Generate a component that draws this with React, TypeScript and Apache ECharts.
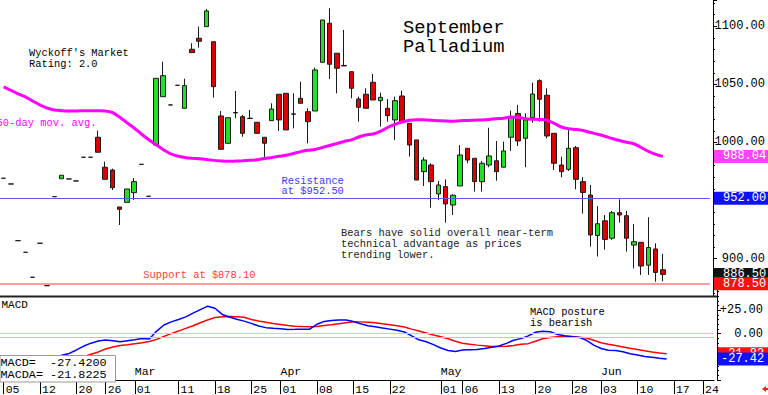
import React, { useEffect, useRef } from "react";
import * as echarts from "echarts";

// Trading days (category axis), Feb 5 – Jun 25 2024
const dates = [
  "2024-02-05","2024-02-06","2024-02-07","2024-02-08","2024-02-09","2024-02-12","2024-02-13","2024-02-14","2024-02-15","2024-02-16",
  "2024-02-20","2024-02-21","2024-02-22","2024-02-23","2024-02-26","2024-02-27","2024-02-28","2024-02-29",
  "2024-03-01","2024-03-04","2024-03-05","2024-03-06","2024-03-07","2024-03-08","2024-03-11","2024-03-12","2024-03-13","2024-03-14",
  "2024-03-15","2024-03-18","2024-03-19","2024-03-20","2024-03-21","2024-03-22","2024-03-25","2024-03-26","2024-03-27","2024-03-28",
  "2024-04-01","2024-04-02","2024-04-03","2024-04-04","2024-04-05","2024-04-08","2024-04-09","2024-04-10","2024-04-11","2024-04-12",
  "2024-04-15","2024-04-16","2024-04-17","2024-04-18","2024-04-19","2024-04-22","2024-04-23","2024-04-24","2024-04-25","2024-04-26",
  "2024-04-29","2024-04-30",
  "2024-05-01","2024-05-02","2024-05-03","2024-05-06","2024-05-07","2024-05-08","2024-05-09","2024-05-10","2024-05-13","2024-05-14",
  "2024-05-15","2024-05-16","2024-05-17","2024-05-20","2024-05-21","2024-05-22","2024-05-23","2024-05-24","2024-05-28","2024-05-29",
  "2024-05-30","2024-05-31",
  "2024-06-03","2024-06-04","2024-06-05","2024-06-06","2024-06-07","2024-06-10","2024-06-11","2024-06-12","2024-06-13","2024-06-14",
  "2024-06-17","2024-06-18","2024-06-20","2024-06-21","2024-06-24","2024-06-25",
];

const dayLabelDates = [
  "2024-02-05","2024-02-12","2024-02-20","2024-02-26","2024-03-01","2024-03-11","2024-03-18","2024-03-25",
  "2024-04-01","2024-04-08","2024-04-15","2024-04-22","2024-05-01","2024-05-06","2024-05-13","2024-05-20",
  "2024-05-28","2024-06-03","2024-06-10","2024-06-17","2024-06-24",
];
const monthLabelDates = ["2024-03-01", "2024-04-01", "2024-05-01", "2024-06-03"];
const monthLabels = ["Mar", "Apr", "May", "Jun"];

const opens = [
  969.2,964.3,915.5,905.5,884.0,913.3,876.8,953.4,968.8,968.6,
  966.9,987.3,987.3,1004.5,978.7,976.3,944.5,948.5,956.8,981.2,
  953.7,997.8,1039.4,1032.3,1049.2,1029.4,1080.2,1089.7,1099.7,1086.7,
  1022.8,999.3,1025.8,1022.2,1020.6,1017.4,1004.5,1018.8,1041.5,1042.3,
  1024.3,1038.0,1026.5,1027.1,1069.0,1102.6,1076.8,1065.8,1060.9,1037.4,
  1041.5,1051.8,1036.0,1029.4,1019.4,1040.0,1016.5,1002.2,974.9,980.6,
  955.7,962.0,946.2,962.6,995.0,986.4,966.3,980.6,984.3,978.7,
  1004.5,1025.0,1003.6,1021.4,1053.2,1040.6,1007.9,980.6,976.9,995.5,
  966.3,954.8,920.0,932.6,917.6,939.6,937.0,911.7,914.1,894.4,
  908.4,890.5,
];
const closes = [
  969.2,964.3,915.5,905.5,884.0,913.3,876.8,953.4,971.8,968.6,
  966.9,987.3,987.3,991.6,968.3,961.1,942.5,960.0,966.3,981.2,
  953.7,1055.2,1057.5,1032.3,1049.2,1048.9,1077.3,1087.1,1113.2,1048.0,
  994.1,1021.3,1025.4,1007.9,1020.9,1007.9,999.3,1028.8,1019.4,1010.8,
  1024.6,1033.7,1017.9,1062.4,1105.4,1067.3,1063.9,1066.3,1046.6,1030.3,
  1029.4,1036.6,1038.9,1023.1,1036.0,1017.9,997.8,967.7,984.9,966.3,
  963.4,947.1,954.6,989.2,984.9,966.3,982.1,988.4,974.9,992.7,
  1021.7,1001.3,1019.4,1041.7,1037.2,1005.6,982.1,974.9,995.0,968.3,
  957.0,920.4,930.1,916.6,939.6,937.6,917.6,914.6,893.7,909.6,
  888.2,886.5,
];
const lows = [
  969.2,964.3,915.5,905.5,884.0,913.3,876.8,953.4,968.8,968.6,
  966.9,987.3,987.3,991.6,968.3,959.1,929.0,948.5,950.5,981.2,
  953.7,997.8,1039.4,1032.3,1049.2,1029.4,1077.3,1081.6,1099.7,1038.6,
  994.1,999.3,1020.8,1005.0,1020.6,1007.9,985.0,1018.8,1009.9,1010.8,
  1012.2,1033.7,999.3,1027.1,1069.0,1054.6,1042.3,1065.8,1038.0,1017.9,
  1029.4,1036.6,1013.6,1017.9,1002.2,1017.9,987.8,967.7,962.6,943.9,
  950.5,931.0,937.6,962.6,982.1,957.7,957.7,978.7,967.1,978.7,
  992.7,997.0,978.7,1017.0,1017.9,1003.6,976.3,970.1,975.5,959.7,
  938.8,910.4,901.9,907.9,916.1,931.0,906.1,891.7,886.0,886.0,
  880.2,880.6,
];
const highs = [
  969.2,964.3,915.5,905.5,884.0,913.3,876.8,953.4,971.8,968.6,
  966.9,987.3,987.3,1010.2,983.5,977.5,944.5,960.0,969.4,981.2,
  953.7,1055.2,1069.5,1032.3,1049.2,1054.9,1085.4,1099.7,1114.9,1086.7,
  1027.1,1021.3,1044.3,1023.7,1028.0,1017.4,1004.5,1033.7,1041.5,1042.3,
  1042.3,1052.3,1029.4,1064.4,1105.4,1115.5,1076.8,1096.8,1060.9,1039.4,
  1046.6,1059.0,1042.9,1037.4,1039.4,1044.6,1016.5,1002.2,987.3,982.1,
  966.9,968.3,955.4,997.8,995.0,986.4,984.0,1012.7,1001.3,1000.7,
  1027.4,1032.3,1025.1,1051.5,1054.4,1046.6,1007.9,987.8,1012.2,997.0,
  970.1,963.4,945.2,937.6,941.0,951.1,941.1,929.8,914.1,935.7,
  913.2,904.1,
];

const ma50 = [
  1047.8,1044.9,1041.9,1039.2,1035.7,1032.3,1029.7,1028.0,1027.4,1027.1,
  1027.1,1027.3,1027.4,1027.3,1027.1,1025.8,1021.9,1017.2,1012.5,1007.3,
  1002.6,998.3,994.0,990.5,988.4,987.1,986.4,986.0,985.4,984.6,
  984.1,983.8,984.0,984.3,984.7,985.1,986.2,987.1,988.1,989.0,
  990.5,992.1,993.3,994.0,995.7,997.4,999.1,1000.9,1002.2,1004.7,
  1006.5,1007.3,1009.5,1012.9,1015.5,1017.6,1019.1,1019.6,1019.5,1019.2,
  1018.8,1018.5,1018.3,1018.7,1018.9,1019.2,1019.4,1019.8,1020.4,1020.9,
  1021.9,1021.7,1020.4,1020.0,1019.8,1019.1,1016.4,1013.3,1011.8,1011.2,
  1010.3,1008.6,1007.1,1005.4,1003.4,1001.7,1000.2,998.9,995.7,992.3,
  989.8,988.04,
];

const macd = [
  -41,-39,-38,-36,-34,-32,-30,-26.5,-23.4,-21.4,
  -17.7,-13.5,-10.4,-8.0,-7.1,-7.8,-8.9,-7.8,-6.8,-5.3,
  -6.0,2.6,9.1,12.5,15.1,17.9,21.9,25.7,29.4,27.1,
  20.5,17.7,15.3,13.3,10.9,8.0,6.3,5.7,5.2,4.4,
  4.5,4.7,4.7,9.9,13.0,13.9,14.4,14.6,12.8,10.4,
  8.4,7.3,5.9,4.7,3.4,1.6,-2.6,-6.8,-8.9,-12.0,
  -15.6,-18.2,-19.3,-17.7,-17.4,-17.2,-16.1,-14.8,-13.4,-10.6,
  -7.3,-5.5,-2.6,1.3,2.4,2.0,-1.0,-2.4,-3.4,-4.2,
  -7.3,-12.5,-16.1,-18.0,-18.4,-19.6,-21.8,-23.2,-24.8,-25.5,
  -26.6,-27.42,
];
const macdA = [
  -40,-39.5,-39,-38,-37,-36,-35,-33.5,-32,-30,
  -27.6,-25.0,-22.4,-19.8,-16.7,-14.6,-13.0,-12.0,-10.9,-9.9,
  -8.6,-6.3,-3.1,-0.1,2.6,5.5,8.3,11.5,14.6,17.2,
  18.0,18.2,18.0,17.4,15.1,13.4,12.0,10.7,9.7,8.6,
  7.9,7.4,7.2,7.6,8.5,9.4,10.4,11.5,12.6,12.5,
  12.0,11.5,10.4,9.5,8.3,7.0,4.7,2.6,0.5,-1.6,
  -3.6,-5.7,-8.3,-10.4,-11.5,-12.5,-13.3,-14.1,-14.1,-13.8,
  -12.8,-11.5,-10.9,-8.3,-5.7,-4.3,-3.4,-3.2,-3.2,-3.9,
  -4.9,-7.3,-9.9,-11.5,-13.0,-14.4,-15.9,-17.2,-18.5,-19.9,
  -20.9,-21.8225,
];

const resistance = 952;
const support = 878.1;
const supportTag = 878.5;
const macdZeroA = 0;
const macdZeroB = -4;

const FONT = "Liberation Mono";

function tagLabel(bg: string, padLeft: number) {
  return {
    show: true,
    position: "end",
    distance: 4,
    formatter: (p: any) => Number(p.value).toFixed(2),
    backgroundColor: bg,
    color: "#fff",
    fontFamily: FONT,
    fontSize: 12,
    lineHeight: 12,
    padding: [1, 14, 0, padLeft],
  };
}

function hiddenLine() {
  return { color: "rgba(255,255,255,0)", width: 1, type: "solid" };
}

function txt(text: string, x: number, y: number, size: number, fill: string, lh?: number) {
  return {
    type: "text",
    x,
    y,
    z: 100,
    style: {
      text,
      fill,
      font: `${size}px "${FONT}"`,
      lineHeight: lh || size,
      align: "left",
      verticalAlign: "top",
    },
  };
}

export default function App() {
  const ref = useRef<HTMLDivElement>(null);
  useEffect(() => {
    const chart = echarts.init(ref.current!, null, { renderer: "svg" });
    const dayIdx = new Set(dayLabelDates.map((d) => dates.indexOf(d)));
    const monIdx = new Set(monthLabelDates.map((d) => dates.indexOf(d)));
    const lastMacd = macd[macd.length - 1];
    const lastMacdA = macdA[macdA.length - 1];
    const priceTags = [resistance, closes[closes.length - 1], supportTag, ma50[ma50.length - 1]];
    const macdTags = [lastMacd, lastMacdA];
    // tick labels that sit under a value tag are covered in the original: leave them out
    const covered = (v: number, tags: number[], tol: number) => tags.some((t) => Math.abs(t - v) < tol);
    const option: any = {
      animation: false,
      backgroundColor: "#fff",
      textStyle: { fontFamily: FONT },
      grid: [
        { left: -1, top: 0, width: 715, height: 296 },
        { left: -1, top: 287, width: 715, height: 96 },
      ],
      xAxis: [
        {
          type: "category",
          gridIndex: 0,
          data: dates,
          boundaryGap: true,
          axisLine: { show: false, onZero: false },
          axisTick: { show: false },
          axisLabel: { show: false },
          splitLine: { show: false },
        },
        {
          type: "category",
          gridIndex: 1,
          data: dates,
          position: "bottom",
          boundaryGap: true,
          axisLine: { show: true, onZero: false, lineStyle: { color: "#000", width: 1 } },
          axisTick: {
            show: true,
            inside: false,
            alignWithLabel: true,
            interval: (i: number) => dayIdx.has(i),
            length: 14,
            lineStyle: { color: "#000" },
          },
          axisLabel: {
            interval: (i: number) => dayIdx.has(i),
            formatter: (v: string) => v.slice(8, 10),
            align: "left",
            padding: [0, 0, 0, 2],
            margin: 3,
            fontFamily: FONT,
            fontSize: 11.5,
            color: "#000",
          },
          splitLine: { show: false },
        },
        {
          type: "category",
          gridIndex: 1,
          data: dates,
          position: "bottom",
          boundaryGap: true,
          axisLine: { show: false, onZero: false },
          axisTick: { show: false },
          axisLabel: {
            inside: true,
            interval: (i: number) => monIdx.has(i),
            formatter: (v: string) => monthLabels[monthLabelDates.indexOf(v)] || "",
            align: "left",
            margin: 3,
            fontFamily: FONT,
            fontSize: 11.5,
            color: "#000",
          },
          splitLine: { show: false },
        },
      ],
      yAxis: [
        {
          type: "value",
          gridIndex: 0,
          position: "right",
          offset: 3,
          min: 867.9,
          max: 1122.6,
          splitNumber: 5,
          axisLine: { show: true, lineStyle: { color: "#000" } },
          axisTick: { show: true, length: 4, lineStyle: { color: "#000" } },
          minorTick: { show: true, splitNumber: 5, length: 2, lineStyle: { color: "#000" } },
          splitLine: { show: false },
          axisLabel: {
            showMinLabel: false,
            showMaxLabel: false,
            align: "right",
            margin: 52,
            fontFamily: FONT,
            fontSize: 12,
            color: "#000",
            formatter: (v: number) => (covered(v, priceTags, 9) ? "" : v.toFixed(2)),
          },
        },
        {
          type: "value",
          gridIndex: 1,
          position: "right",
          offset: 3,
          min: -50,
          max: 50,
          interval: 25,
          axisLine: { show: true, lineStyle: { color: "#000" } },
          axisTick: { show: true, length: 4, lineStyle: { color: "#000" } },
          minorTick: { show: true, splitNumber: 5, length: 2, lineStyle: { color: "#000" } },
          splitLine: { show: false },
          axisLabel: {
            showMinLabel: false,
            showMaxLabel: false,
            align: "right",
            margin: 46,
            fontFamily: FONT,
            fontSize: 12,
            color: "#000",
            formatter: (v: number) =>
              covered(v, macdTags, 6) ? "" : (v > 0 ? "+" : "") + v.toFixed(2),
          },
        },
      ],
      series: [
        {
          type: "candlestick",
          xAxisIndex: 0,
          yAxisIndex: 0,
          barWidth: 5,
          data: opens.map((o, i) => [o, closes[i], lows[i], highs[i]]),
          itemStyle: {
            color: "#22e022",
            color0: "#dd0000",
            borderColor: "#1a1a1a",
            borderColor0: "#1a1a1a",
            borderWidth: 1,
          },
          markLine: {
            silent: true,
            symbol: "none",
            data: [
              { yAxis: resistance, lineStyle: { color: "#5a5aff", width: 1, type: "solid" }, label: tagLabel("#1010ff", 9) },
              { yAxis: support, lineStyle: { color: "#ff9c9c", width: 2, type: "solid" }, label: { show: false } },
              { yAxis: closes[closes.length - 1], lineStyle: hiddenLine(), label: tagLabel("#111111", 9) },
              { yAxis: supportTag, lineStyle: hiddenLine(), label: tagLabel("#ff1010", 9) },
            ],
          },
        },
        {
          type: "line",
          xAxisIndex: 0,
          yAxisIndex: 0,
          data: ma50,
          symbol: "none",
          smooth: 0.3,
          lineStyle: { color: "#ff00ff", width: 3 },
          markLine: {
            silent: true,
            symbol: "none",
            data: [{ yAxis: ma50[ma50.length - 1], lineStyle: hiddenLine(), label: tagLabel("#ff44ff", 9) }],
          },
        },
        {
          type: "line",
          xAxisIndex: 1,
          yAxisIndex: 1,
          data: macdA,
          symbol: "none",
          lineStyle: { color: "#ff0000", width: 1.5 },
          markLine: {
            silent: true,
            symbol: "none",
            data: [
              { yAxis: macdZeroA, lineStyle: { color: "#ffbdbd", width: 1, type: "solid" }, label: { show: false } },
              { yAxis: lastMacdA, lineStyle: hiddenLine(), label: tagLabel("#ff1010", 3) },
            ],
          },
        },
        {
          type: "line",
          xAxisIndex: 1,
          yAxisIndex: 1,
          data: macd,
          symbol: "none",
          lineStyle: { color: "#0000ff", width: 1.5 },
          markLine: {
            silent: true,
            symbol: "none",
            data: [
              { yAxis: macdZeroB, lineStyle: { color: "#bcbcff", width: 1, type: "solid" }, label: { show: false } },
              { yAxis: lastMacd, lineStyle: hiddenLine(), label: tagLabel("#1010ff", 3) },
            ],
          },
        },
      ],
      graphic: [
        {
          type: "line",
          z: 90,
          shape: { x1: 0, y1: 296.5, x2: 717, y2: 296.5 },
          style: { stroke: "#222", lineWidth: 2 },
        },
        txt("September\nPalladium", 403, 18, 18.8, "#000", 19),
        txt("Wyckoff's Market\nRating: 2.0", 29, 48, 10.4, "#000", 10.5),
        txt("50-day mov. avg.", -3.4, 118, 10.4, "#ff00ff"),
        txt("Resistance\nat $952.50", 281.5, 175.5, 10.4, "#3a3aff", 10.5),
        txt(
          "Bears have solid overall near-term\ntechnical advantage as prices\ntrending lower.",
          341,
          227,
          10.4,
          "#222",
          11.2
        ),
        txt("Support at $878.10", 143.3, 269.8, 10.4, "#ff3c3c"),
        txt("MACD", 1.5, 299.5, 11, "#000"),
        txt("MACD posture\nis bearish", 530, 307, 10.4, "#000", 10.4),
        {
          type: "rect",
          z: 99,
          shape: { x: 0, y: 355.5, width: 115.5, height: 26.5 },
          style: { fill: "#fff", stroke: "#999", lineWidth: 1 },
        },
        txt(
          "MACD=  " + lastMacd.toFixed(4) + "\nMACDA= " + lastMacdA.toFixed(4),
          0.5,
          356.5,
          11.8,
          "#000",
          12.3
        ),
        {
          type: "polygon",
          z: 100,
          shape: { points: [[762, 389], [766, 386], [766, 388], [768, 388], [768, 390], [766, 390], [766, 392]] },
          style: { fill: "#ff2020" },
        },
      ],
    };
    chart.setOption(option);
    return () => chart.dispose();
  }, []);
  return (
    <div
      ref={ref}
      style={{ position: "fixed", left: 0, top: 0, width: 768, height: 395 }}
    />
  );
}
